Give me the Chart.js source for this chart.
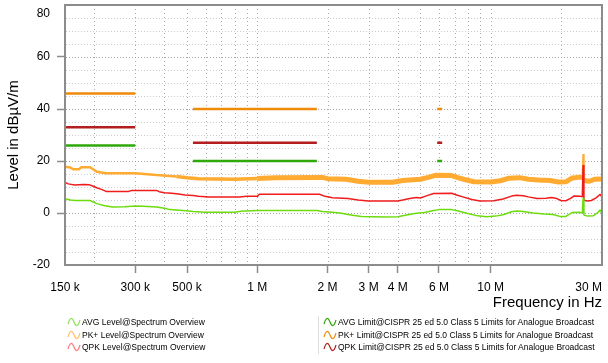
<!DOCTYPE html>
<html>
<head>
<meta charset="utf-8">
<script src="https://cdn.jsdelivr.net/npm/chart.js@4/dist/chart.umd.min.js"></script>
<style>
    body { margin: 0; background: #fff; font-family: "Liberation Sans", Arial, sans-serif; }
    #wrap { position: relative; width: 608px; height: 363px; }
    #legend { position: absolute; top: 316px; left: 0; width: 608px; font-size: 8.5px; color: #000; }
    .col { position: absolute; top: 0; }
    .col.left { left: 67px; }
    .col.right { left: 318px; padding-left: 4px; border-left: 1px solid #ddd; }
    .item { height: 12.5px; line-height: 12.5px; white-space: nowrap; }
    .item svg { vertical-align: -2px; margin-right: 1px; }
</style>
</head>
<body>
<div id="wrap">
    <canvas id="chart" width="608" height="363"></canvas>
    <div id="legend"><div class="col left" id="legLeft"></div><div class="col right" id="legRight"></div></div>
</div>
<script>
// Frequencies in MHz, levels in dBµV/m
const avgFreq = [0.15, 0.158, 0.166, 0.192, 0.205, 0.222, 0.24, 0.27, 0.3, 0.325, 0.37, 0.4, 0.423, 0.48, 0.533, 0.6, 0.8, 0.85,
    1.0, 1.8, 1.9, 2.1, 2.3, 2.45, 2.6, 2.8, 3.5, 4.0, 4.3, 4.8, 5.2, 5.45, 5.7, 6.0, 6.8, 7.2, 7.9, 8.8, 9.6,
    10.5, 11.3, 12.3, 12.9, 13.8, 15.2, 17.0, 18.5, 19.8, 21.0, 22.4, 24.0, 24.7, 24.9, 25.1, 26.0, 27.5, 28.7, 29.5, 30.0];
const avgLevel = [5.5, 5.0, 4.8, 4.8, 3.6, 2.8, 2.3, 2.4, 2.7, 2.6, 2.3, 1.8, 1.3, 1.0, 0.6, 0.3, 0.3, 0.7,
    1.0, 1.0, 0.6, 0.3, -0.1, -0.6, -1.0, -1.3, -1.5, -1.4, -0.9, -0.1, 0.2, 0.6, 1.0, 1.3, 1.3, 0.9, -0.1, -1.1, -1.4,
    -1.2, -0.7, 0.5, 0.8, 0.6, 0.0, -0.4, -0.6, -1.3, -1.3, 0.2, 0.3, 0.0, 5.8, -0.8, -1.2, -1.1, 0.1, 1.2, -0.4];

const qpkFreq = [0.15, 0.155, 0.165, 0.18, 0.19, 0.197, 0.205, 0.215, 0.225, 0.28, 0.29, 0.37, 0.38, 0.4, 0.43, 0.46, 0.49,
    0.53, 0.56, 0.62, 0.84, 0.9, 1.0, 1.02, 1.85, 1.95, 2.1, 2.45, 2.7, 3.0, 4.0, 4.2, 4.5, 4.8, 5.0, 5.3, 5.7, 6.8,
    7.2, 7.6, 8.3, 9.0, 10.3, 11.3, 12.3, 12.9, 13.8, 14.5, 15.8, 17.3, 18.2, 19.0, 20.0, 21.0, 22.0, 22.7, 24.3, 24.7,
    24.9, 25.1, 26.0, 27.0, 28.3, 29.5, 30.0];
const qpkLevel = [11.8, 11.2, 10.8, 11.0, 10.9, 10.4, 9.7, 9.1, 8.3, 8.3, 8.7, 8.7, 8.2, 7.8, 7.6, 7.3, 6.9,
    6.7, 6.4, 6.2, 6.2, 6.4, 6.4, 7.2, 7.2, 6.4, 5.9, 5.6, 5.0, 4.6, 4.6, 5.0, 5.6, 6.0, 5.8, 6.6, 7.5, 7.6,
    6.8, 6.2, 5.2, 4.6, 4.7, 5.4, 6.5, 6.8, 6.6, 6.2, 5.6, 5.7, 6.0, 5.7, 4.8, 4.7, 5.6, 6.5, 6.4, 6.2,
    18.5, 4.9, 4.6, 4.8, 5.8, 7.2, 5.9];

const pkFreq = [0.15, 0.158, 0.163, 0.172, 0.176, 0.192, 0.198, 0.205, 0.225, 0.3, 0.37, 0.45, 0.5, 0.56, 0.8,
    1.0, 1.2, 1.9, 2.0, 2.4, 2.7, 3.0, 3.8, 4.2, 5.0, 5.4, 5.8, 6.8, 7.3, 7.8, 8.5, 10.0, 11.0, 12.0, 13.3,
    14.5, 16.0, 18.0, 19.5, 21.0, 22.4, 24.3, 24.7, 24.9, 25.1, 26.5, 28.0, 30.0];
const pkLevel = [17.8, 17.5, 16.8, 16.8, 17.6, 17.6, 16.8, 15.9, 15.3, 15.3, 14.6, 14.0, 13.6, 13.2, 13.0,
    13.3, 13.6, 13.7, 13.2, 13.0, 12.2, 11.8, 11.8, 12.5, 13.0, 13.7, 14.5, 14.4, 13.5, 12.8, 12.0, 11.9, 12.4, 13.4, 13.6,
    13.0, 12.7, 12.5, 11.9, 12.0, 13.5, 13.8, 13.6, 22.7, 12.5, 12.2, 13.0, 13.1];

// CISPR 25 class 5 broadcast bands (MHz) and limits
const bandStart = [0.15, 0.53, 5.9];
const bandStop = [0.3, 1.8, 6.2];
const pkLimit = [46, 40, 40];
const qpkLimit = [33, 27, 27];
const avgLimit = [26, 20, 20];

// Axis ticks
const xGrid = [0.15, 0.2, 0.3, 0.4, 0.5, 0.6, 0.7, 0.8, 0.9, 1, 2, 3, 4, 5, 6, 7, 8, 9, 10, 20, 30];
const xTickValues = [0.15, 0.3, 0.5, 1, 2, 3, 4, 6, 10, 30];
const xTickText = ['150 k', '300 k', '500 k', '1 M', '2 M', '3 M', '4 M', '6 M', '10 M', '30 M        '];
const yGrid = [-15, -10, -5, 0, 5, 10, 15, 20, 25, 30, 35, 40, 45, 50, 55, 60, 65, 70, 75];
const yLabelValues = [-20, 0, 20, 40, 60, 80];

const zip = (xs, ys) => xs.map((x, i) => ({ x: x, y: ys[i] }));

function limitPoints(levels) {
    let pts = [];
    for (let i = 0; i < bandStart.length; i++) {
        pts.push({ x: bandStart[i], y: levels[i] });
        pts.push({ x: bandStop[i], y: levels[i] });
        pts.push({ x: bandStop[i], y: null });
    }
    return pts;
}

const datasets = [
    { label: 'AVG Level@Spectrum Overview', data: zip(avgFreq, avgLevel), borderColor: '#6cdc0c', borderWidth: 1.5, order: 1,
        legendColor: '#8fe25a', group: 'left' },
    { label: 'PK+ Level@Spectrum Overview', data: zip(pkFreq, pkLevel), borderColor: '#ffab32', borderWidth: 4, order: 3,
        legendColor: '#ffbf66', group: 'left',
        segment: {
            borderWidth: (ctx) => {
                if (Math.abs(ctx.p1.parsed.y - ctx.p0.parsed.y) > 4) return 1.5;
                if (ctx.p0.parsed.x < 0.4) return 2.5;
                if (ctx.p0.parsed.x < 1) return 3.5;
                return 5;
            },
        } },
    { label: 'QPK Level@Spectrum Overview', data: zip(qpkFreq, qpkLevel), borderColor: '#f01c1c', borderWidth: 1.5, order: 2,
        legendColor: '#ff7a7a', group: 'left' },
    { label: 'AVG Limit@CISPR 25 ed 5.0 Class 5 Limits for Analogue Broadcast', data: limitPoints(avgLimit),
        borderColor: '#2ea80a', borderWidth: 2.5, order: 4, legendColor: '#2ea80a', group: 'right' },
    { label: 'PK+ Limit@CISPR 25 ed 5.0 Class 5 Limits for Analogue Broadcast', data: limitPoints(pkLimit),
        borderColor: '#f08a0a', borderWidth: 2.5, order: 4, legendColor: '#f08a0a', group: 'right' },
    { label: 'QPK Limit@CISPR 25 ed 5.0 Class 5 Limits for Analogue Broadcast', data: limitPoints(qpkLimit),
        borderColor: '#b41e1e', borderWidth: 2.5, order: 4, legendColor: '#b41e1e', group: 'right' },
];

// dotted grid, drawn from the scales
const dottedGrid = {
    id: 'dottedGrid',
    beforeDatasetsDraw(chart) {
        const { ctx, chartArea: a, scales } = chart;
        ctx.save();
        ctx.lineWidth = 1;
        ctx.setLineDash([1, 3]);
        ctx.strokeStyle = '#acacac';
        for (let v of xGrid) {
            const px = Math.round(scales.x.getPixelForValue(v)) + 0.5;
            if (px <= a.left + 1 || px >= a.right - 1) continue;
            ctx.beginPath();
            ctx.moveTo(px, a.top);
            ctx.lineTo(px, a.bottom);
            ctx.stroke();
        }
        ctx.setLineDash([1, 2]);
        for (let v of yGrid) {
            const py = Math.round(scales.y.getPixelForValue(v)) + 0.5;
            ctx.strokeStyle = v % 20 === 0 ? '#a4a4a4' : '#cccccc';
            ctx.beginPath();
            ctx.moveTo(a.left + 1, py);
            ctx.lineTo(a.right - 1, py);
            ctx.stroke();
        }
        ctx.restore();
    },
    afterDraw(chart) {
        const { ctx, chartArea: a } = chart;
        ctx.save();
        ctx.strokeStyle = '#8c8c8c';
        ctx.lineWidth = 2;
        ctx.strokeRect(a.left, a.top, a.right - a.left, a.bottom - a.top);
        ctx.restore();
    }
};

new Chart(document.getElementById('chart'), {
    type: 'line',
    data: { datasets: datasets },
    options: {
        responsive: false,
        animation: false,
        spanGaps: false,
        layout: { padding: { top: 5, right: 6, bottom: 51, left: 0 } },
        elements: {
            point: { radius: 0 },
            line: { tension: 0, borderJoinStyle: 'bevel' },
        },
        plugins: { legend: { display: false }, tooltip: { enabled: false } },
        scales: {
            x: {
                type: 'logarithmic',
                min: 0.15,
                max: 30,
                afterBuildTicks: (scale) => {
                    scale.ticks = xGrid.map((v) => ({ value: v }));
                },
                afterFit: (scale) => {
                    scale.height = 47;
                    scale.paddingLeft = 0;
                    scale.paddingRight = 0;
                },
                ticks: {
                    autoSkip: false,
                    maxRotation: 0,
                    padding: 7,
                    color: '#000',
                    font: { family: '"Liberation Sans", Arial, sans-serif', size: 12 },
                    callback: (value) => {
                        const i = xTickValues.indexOf(value);
                        return i >= 0 ? xTickText[i] : '';
                    },
                },
                grid: {
                    drawOnChartArea: false,
                    color: '#8c8c8c',
                    tickLength: 8,
                    tickWidth: 1.5,
                    tickColor: (ctx) => {
                        const v = ctx.tick.value;
                        return xTickValues.indexOf(v) > 0 && v < 30 ? '#8c8c8c' : 'rgba(0,0,0,0)';
                    },
                },
                border: { display: false },
                title: {
                    display: true,
                    text: 'Frequency in Hz',
                    align: 'end',
                    color: '#000',
                    padding: { top: 0, bottom: 0 },
                    font: { family: '"Liberation Sans", Arial, sans-serif', size: 15 },
                },
            },
            y: {
                min: -20,
                max: 80,
                afterFit: (scale) => {
                    scale.width = 65;
                    scale.paddingTop = 0;
                    scale.paddingBottom = 0;
                },
                ticks: {
                    stepSize: 5,
                    autoSkip: false,
                    padding: 7,
                    color: '#000',
                    font: { family: '"Liberation Sans", Arial, sans-serif', size: 12, lineHeight: 1.5 },
                    callback: (value) => {
                        if (yLabelValues.indexOf(value) < 0) return '';
                        return value === 80 ? ['', '80'] : String(value);
                    },
                },
                grid: {
                    drawOnChartArea: false,
                    color: '#8c8c8c',
                    tickLength: 8,
                    tickWidth: 1.5,
                    tickColor: (ctx) => {
                        const v = ctx.tick.value;
                        return v % 20 === 0 && v > -20 && v < 80 ? '#8c8c8c' : 'rgba(0,0,0,0)';
                    },
                },
                border: { display: false },
                title: {
                    display: true,
                    text: 'Level in dBµV/m',
                    color: '#000',
                    padding: { top: 5, bottom: 0 },
                    font: { family: '"Liberation Sans", Arial, sans-serif', size: 15 },
                },
            },
        },
    },
    plugins: [dottedGrid],
});

// Legend in two columns below the chart
function sineIcon(color) {
    return '<svg width="14" height="10" viewBox="0 0 14 10"><path d="M1 7 C3 0 5 0 7 5 S11 10 13 3" fill="none" stroke="' +
        color + '" stroke-width="1.2"/></svg>';
}
for (let ds of datasets) {
    const col = document.getElementById(ds.group === 'left' ? 'legLeft' : 'legRight');
    const div = document.createElement('div');
    div.className = 'item';
    div.innerHTML = sineIcon(ds.legendColor) + '<span></span>';
    div.querySelector('span').textContent = ds.label;
    col.appendChild(div);
}
</script>
</body>
</html>
